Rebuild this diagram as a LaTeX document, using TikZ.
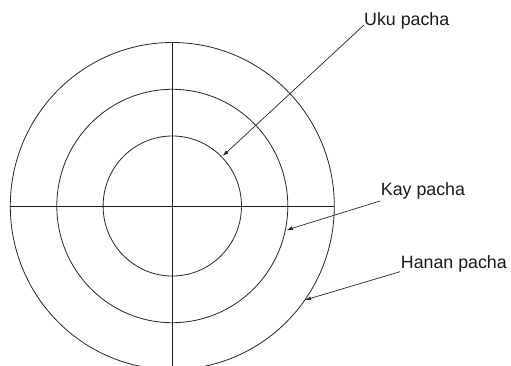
\documentclass[tikz,border=0pt]{standalone}
\usepackage{fontspec}
\setmainfont{Liberation Sans}
\usetikzlibrary{arrows.meta,calc}
\begin{document}
\begin{tikzpicture}[x=1pt,y=-1pt,
  ring/.style={draw=black!85,line width=0.8pt},
  axis/.style={draw=black!90,line width=0.8pt},
  pointer/.style={draw=black!85,line width=0.7pt,-{Latex[length=6pt,width=4pt]}},
  lbl/.style={font=\fontsize{17.8}{20}\selectfont,anchor=base west,inner sep=0pt,text=black!90}]
\useasboundingbox (0,0) rectangle (511,366);
\clip (0,0) rectangle (511,366);
\fill[white] (0,0) rectangle (511,366);
\coordinate (c) at (172.3,206);
\draw[ring] (c) ellipse [x radius=162, y radius=163.5];
\draw[ring] (c) ellipse [x radius=115.5, y radius=116.7];
\draw[ring] (c) ellipse [x radius=69.2, y radius=70];
\coordinate (hl) at (10,206);
\coordinate (hr) at (334,206);
\coordinate (vt) at (172.3,42);
\coordinate (vb) at (172.3,370);
\draw[axis] (hl) -- (hr);
\draw[axis] (vt) -- (vb);
\node[lbl] (uku) at (364,26) {Uku pacha};
\node[lbl] (kay) at (380.7,196) {Kay pacha};
\node[lbl] (hanan) at (400.7,268) {Hanan pacha};
\coordinate (ukus) at (364,25);
\coordinate (kays) at (380,201);
\coordinate (hanans) at (400,271.7);
\coordinate (ukut) at (222.7,156);
\coordinate (kayt) at (286.7,230);
\coordinate (hanant) at (305,300);
\draw[pointer] (ukus) -- (ukut);
\draw[pointer] (kays) -- (kayt);
\draw[pointer] (hanans) -- (hanant);
\end{tikzpicture}
\end{document}
